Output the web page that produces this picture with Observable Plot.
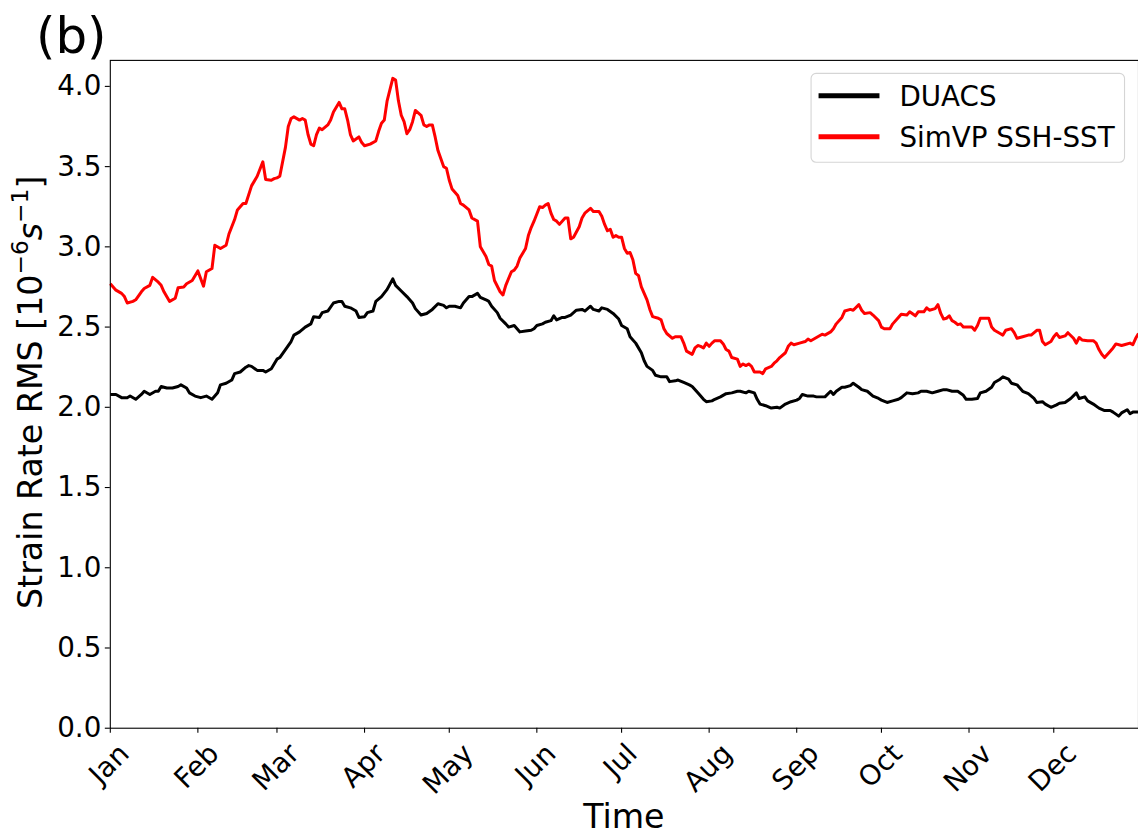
<!DOCTYPE html>
<html><head><meta charset="utf-8">
<script src="https://cdn.jsdelivr.net/npm/d3@7"></script>
<script src="https://cdn.jsdelivr.net/npm/@observablehq/plot@0.6"></script>
<style>
html,body{margin:0;padding:0;background:#fff;overflow:hidden;width:1138px;height:837px}
#wrap{position:relative;width:1138px;height:837px;overflow:hidden}
</style></head><body><div id="wrap"></div>
<script>
const seriesNames = ["DUACS", "SimVP SSH-SST"];
const seriesColors = ["#000000", "#ff0000"];
const monthLabels = ["Jan","Feb","Mar","Apr","May","Jun","Jul","Aug","Sep","Oct","Nov","Dec"];
const yTickValues = [0, 0.5, 1.0, 1.5, 2.0, 2.5, 3.0, 3.5, 4.0];

// day of year (0 = Jan 1)
const duacsDays = [0,2,4,6,7,9,11,12,14,16,
 17,18,20,22,24,25,27,28,30,32,
 34,36,38,39,41,43,44,46,48,49,
 50,52,54,55,57,59,60,62,64,65,
 67,69,71,72,74,75,77,79,81,82,
 83,85,87,88,90,91,93,94,96,98,
 100,101,103,105,107,108,110,112,114,116,
 118,119,120,122,124,125,127,128,130,131,
 133,134,135,137,138,140,141,143,145,147,
 149,150,151,153,154,156,157,158,160,161,
 163,165,167,168,170,171,173,174,176,178,
 180,181,183,184,186,188,189,190,192,193,
 195,197,198,200,201,203,205,206,208,210,
 211,213,214,216,218,220,222,223,225,226,
 228,229,230,232,234,236,237,239,241,243,
 244,245,247,249,250,253,255,256,257,259,
 260,262,263,265,266,268,270,272,273,275,
 277,279,280,282,284,286,287,289,291,293,
 295,296,298,300,302,303,305,307,308,310,
 312,313,315,316,318,319,321,322,323,325,
 327,328,330,331,333,335,336,338,340,342,
 343,345,346,348,350,352,354,355,357,358,
 360,361,362,364];
const duacsValues = [2.08,2.08,2.06,2.06,2.07,2.05,2.08,2.10,2.08,2.10,
 2.10,2.13,2.12,2.12,2.13,2.14,2.12,2.09,2.07,2.06,
 2.07,2.05,2.09,2.14,2.15,2.17,2.21,2.22,2.25,2.26,
 2.255,2.23,2.23,2.22,2.24,2.30,2.31,2.36,2.41,2.45,
 2.47,2.50,2.52,2.565,2.56,2.59,2.60,2.65,2.66,2.66,
 2.63,2.62,2.60,2.56,2.565,2.59,2.60,2.66,2.69,2.735,
 2.80,2.76,2.725,2.69,2.65,2.615,2.575,2.585,2.61,2.645,
 2.635,2.62,2.63,2.63,2.62,2.65,2.69,2.69,2.71,2.685,
 2.67,2.66,2.63,2.59,2.555,2.52,2.50,2.51,2.47,2.475,
 2.48,2.49,2.51,2.52,2.53,2.54,2.57,2.545,2.56,2.56,
 2.575,2.605,2.61,2.60,2.63,2.61,2.60,2.62,2.61,2.585,
 2.55,2.51,2.49,2.44,2.40,2.34,2.29,2.255,2.23,2.20,
 2.19,2.19,2.16,2.165,2.17,2.155,2.14,2.13,2.09,2.05,
 2.035,2.04,2.05,2.065,2.085,2.09,2.10,2.10,2.09,2.10,
 2.09,2.05,2.02,2.01,1.995,2.00,1.995,2.02,2.035,2.045,
 2.055,2.08,2.07,2.07,2.065,2.065,2.10,2.08,2.10,2.125,
 2.125,2.135,2.15,2.125,2.11,2.10,2.07,2.055,2.045,2.03,
 2.04,2.05,2.06,2.09,2.085,2.09,2.10,2.10,2.09,2.10,
 2.11,2.11,2.10,2.10,2.075,2.05,2.05,2.055,2.09,2.10,
 2.125,2.155,2.175,2.19,2.175,2.15,2.14,2.12,2.10,2.085,
 2.055,2.03,2.035,2.02,2.00,2.015,2.025,2.03,2.055,2.09,
 2.055,2.065,2.04,2.02,1.995,1.98,1.98,1.97,1.945,1.965,
 1.985,1.96,1.97,1.97];

const simvpDays = [0,2,4,5,6,8,9,11,12,14,
 15,17,18,19,21,23,24,26,27,29,
 31,33,34,36,37,39,41,42,44,45,
 46,47,48,50,52,54,55,57,58,59,
 60,62,63,64,65,67,68,69,70,71,
 72,73,74,75,77,78,79,81,82,83,
 84,85,86,88,89,90,92,94,95,96,
 97,98,100,101,102,103,104,105,106,107,
 108,110,111,112,113,114,115,116,118,119,
 120,121,123,124,125,127,128,130,131,133,
 134,135,136,138,139,140,142,143,144,145,
 147,148,149,150,152,153,154,155,156,157,
 158,159,161,162,163,164,166,167,168,170,
 171,173,174,175,176,177,178,179,180,181,
 182,183,184,185,186,187,188,190,191,192,
 194,195,196,197,199,200,202,203,204,206,
 207,208,209,210,211,212,213,214,216,217,
 218,219,220,222,223,224,225,226,227,228,
 230,231,232,234,235,236,237,239,240,241,
 242,244,246,247,248,250,252,253,255,256,
 257,259,260,262,263,265,266,267,269,270,
 272,273,274,276,277,279,280,282,283,285,
 286,288,289,290,292,293,294,295,296,297,
 298,299,300,301,302,303,305,306,307,308,
 310,311,312,313,315,316,317,319,320,321,
 323,325,326,328,329,330,331,333,334,335,
 336,338,339,341,342,343,344,346,348,349,
 350,351,352,354,355,356,358,359,361,362,
 363,364];
const simvpValues = [2.77,2.73,2.71,2.69,2.65,2.66,2.67,2.72,2.74,2.76,
 2.81,2.78,2.76,2.72,2.66,2.68,2.745,2.75,2.77,2.79,
 2.85,2.755,2.845,2.865,3.01,2.99,3.01,3.08,3.17,3.23,
 3.25,3.27,3.27,3.38,3.44,3.53,3.42,3.415,3.425,3.43,
 3.44,3.62,3.75,3.80,3.81,3.79,3.80,3.79,3.70,3.64,
 3.63,3.70,3.74,3.73,3.76,3.79,3.84,3.90,3.86,3.86,
 3.79,3.70,3.66,3.685,3.65,3.63,3.64,3.66,3.72,3.77,
 3.79,3.91,4.05,4.04,3.91,3.82,3.78,3.705,3.73,3.78,
 3.85,3.82,3.76,3.75,3.76,3.76,3.685,3.60,3.50,3.49,
 3.415,3.36,3.32,3.27,3.26,3.23,3.18,3.16,3.00,2.94,
 2.89,2.88,2.79,2.72,2.70,2.76,2.845,2.855,2.88,2.93,
 2.99,3.07,3.12,3.16,3.25,3.245,3.26,3.27,3.21,3.17,
 3.16,3.14,3.18,3.18,3.05,3.06,3.125,3.18,3.21,3.24,
 3.22,3.22,3.19,3.14,3.10,3.11,3.06,3.07,3.06,3.06,
 2.99,2.96,2.965,2.92,2.835,2.82,2.75,2.67,2.61,2.565,
 2.555,2.545,2.49,2.46,2.43,2.44,2.44,2.40,2.35,2.33,
 2.37,2.385,2.38,2.37,2.40,2.38,2.40,2.415,2.415,2.395,
 2.36,2.35,2.31,2.30,2.255,2.27,2.26,2.27,2.255,2.22,
 2.22,2.21,2.24,2.255,2.275,2.29,2.31,2.34,2.38,2.40,
 2.39,2.40,2.41,2.425,2.415,2.435,2.455,2.45,2.47,2.49,
 2.52,2.56,2.60,2.61,2.605,2.64,2.605,2.585,2.59,2.575,
 2.54,2.50,2.49,2.49,2.52,2.56,2.58,2.575,2.595,2.57,
 2.595,2.595,2.62,2.605,2.615,2.64,2.585,2.55,2.555,2.57,
 2.54,2.53,2.515,2.52,2.50,2.50,2.50,2.48,2.51,2.555,
 2.555,2.555,2.50,2.48,2.46,2.45,2.48,2.49,2.465,2.43,
 2.44,2.45,2.45,2.48,2.48,2.41,2.39,2.41,2.44,2.46,
 2.435,2.445,2.465,2.43,2.40,2.435,2.42,2.415,2.415,2.40,
 2.36,2.33,2.31,2.35,2.37,2.395,2.385,2.39,2.40,2.39,
 2.43,2.46];

const YEAR = 2019;
const toDate = d => new Date(Date.UTC(YEAR, 0, 1 + d));
const rows = [
  ...duacsDays.map((d, i) => ({date: toDate(d), value: duacsValues[i], series: seriesNames[0]})),
  ...simvpDays.map((d, i) => ({date: toDate(d), value: simvpValues[i], series: seriesNames[1]}))
];
const monthTicks = monthLabels.map((m, i) => new Date(Date.UTC(YEAR, i, 1)));

const FONT = "DejaVu Sans";
const TICK_FS = 27.8, LABEL_FS = 33.3;

// per-label vertical offset, mimicking matplotlib's centered rotated labels
const ctx = document.createElement("canvas").getContext("2d");
ctx.font = `${TICK_FS}px "${FONT}"`;
const monthLabelMarks = monthLabels.map((lab, i) => {
  const w = ctx.measureText(lab).width;
  const dy = 11 + (w + TICK_FS) / (2 * Math.SQRT2);
  return Plot.text([monthTicks[i]], {
    x: d => d, frameAnchor: "bottom", text: () => lab,
    rotate: -45, textAnchor: "middle", lineAnchor: "middle",
    dy, dx: -1, fontSize: TICK_FS, fill: "black"
  });
});

const chart = Plot.plot({
  width: 1140, height: 837,
  marginLeft: 110, marginRight: 0, marginTop: 60, marginBottom: 108,
  style: {fontFamily: FONT, fontSize: `${TICK_FS}px`, color: "black", background: "white", overflow: "visible"},
  x: {type: "utc", domain: [toDate(0), toDate(364)]},
  y: {domain: [0, 4.162]},
  color: {domain: seriesNames, range: seriesColors},
  marks: [
    Plot.lineY(rows, {x: "date", y: "value", z: "series", stroke: "series", strokeWidth: 3, strokeLinejoin: "round", strokeLinecap: "butt"}),
    Plot.frame({stroke: "black", strokeWidth: 1.1}),
    Plot.axisY({ticks: yTickValues, tickFormat: d => d.toFixed(1), tickSize: 5, tickPadding: 4, label: null, fontSize: TICK_FS, strokeWidth: 1.1}),
    Plot.axisX({ticks: monthTicks, tickFormat: () => "", tickSize: 5, label: null, strokeWidth: 1.1}),
    ...monthLabelMarks
  ]
});

document.getElementById("wrap").appendChild(chart);
const svg = d3.select(chart);

// panel tag
svg.append("text").attr("x", 36).attr("y", 53).attr("text-anchor", "start")
  .attr("font-family", FONT).attr("font-size", 50).attr("fill", "black").text("(b)");

// x label
svg.append("text").attr("x", 625).attr("y", 829).attr("text-anchor", "middle")
  .attr("font-family", FONT).attr("font-size", LABEL_FS).attr("fill", "black").text("Time");

// y label with superscripts
const yl = svg.append("text").attr("transform", "translate(42,393) rotate(-90)")
  .attr("text-anchor", "middle").attr("font-family", FONT).attr("font-size", LABEL_FS).attr("fill", "black");
yl.append("tspan").text("Strain Rate RMS [10");
yl.append("tspan").attr("dy", -14).attr("font-size", LABEL_FS * 0.7).text("\u22126");
yl.append("tspan").attr("dy", 14).attr("font-style", "italic").text("s");
yl.append("tspan").attr("dy", -14).attr("font-size", LABEL_FS * 0.7).text("\u22121");
yl.append("tspan").attr("dy", 14).text("]");

// legend
const lg = svg.append("g").attr("text-anchor", "start");
lg.append("rect").attr("x", 812.5).attr("y", 73.5).attr("width", 314).attr("height", 89).attr("rx", 5)
  .attr("fill", "white").attr("fill-opacity", 0.8).attr("stroke", "#d5d5d5").attr("stroke-width", 1.1);
[96, 137].forEach((yy, i) => {
  lg.append("line").attr("x1", 820).attr("x2", 881).attr("y1", yy).attr("y2", yy)
    .attr("stroke", seriesColors[i]).attr("stroke-width", 5);
  lg.append("text").attr("x", 901).attr("y", yy + 10).attr("text-anchor", "start").attr("font-family", FONT).attr("font-size", TICK_FS)
    .attr("fill", "black").text(seriesNames[i]);
});
</script></body></html>
